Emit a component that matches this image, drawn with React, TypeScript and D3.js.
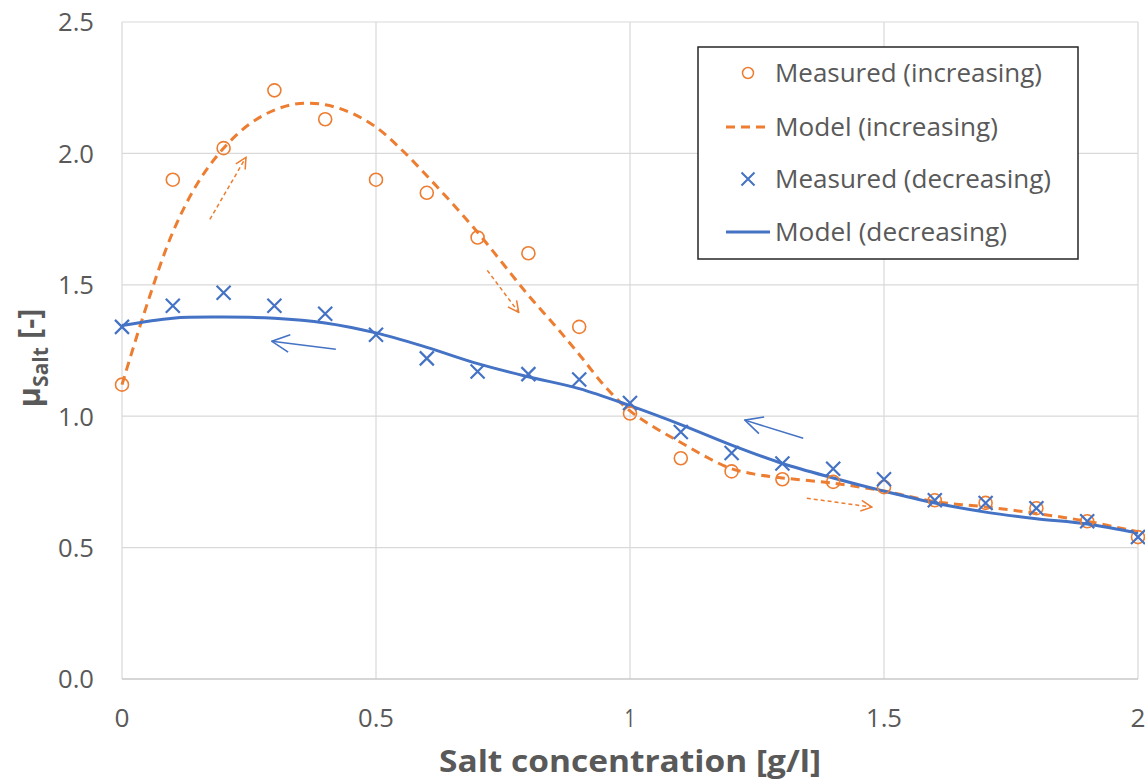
import React from "react";
import * as d3 from "d3";

// measured points (x = salt concentration g/l)
const xMeasured = [0, 0.1, 0.2, 0.3, 0.4, 0.5, 0.6, 0.7, 0.8, 0.9, 1.0, 1.1, 1.2, 1.3, 1.4, 1.5, 1.6, 1.7, 1.8, 1.9, 2.0];
const measuredIncreasing = [1.12, 1.9, 2.02, 2.24, 2.13, 1.9, 1.85, 1.68, 1.62, 1.34, 1.01, 0.84, 0.79, 0.76, 0.75, 0.73, 0.68, 0.67, 0.65, 0.6, 0.54];
const measuredDecreasing = [1.34, 1.42, 1.47, 1.42, 1.39, 1.31, 1.22, 1.17, 1.16, 1.14, 1.05, 0.94, 0.86, 0.82, 0.8, 0.76, 0.68, 0.67, 0.65, 0.6, 0.54];

// model curves
const modelIncreasing: [number, number][] = [
  [0, 1.12], [0.05, 1.43], [0.1, 1.7], [0.15, 1.89], [0.2, 2.02], [0.25, 2.11], [0.3, 2.165],
  [0.35, 2.19], [0.4, 2.185], [0.45, 2.155], [0.5, 2.1], [0.55, 2.015], [0.6, 1.915], [0.65, 1.81],
  [0.7, 1.7], [0.75, 1.58], [0.8, 1.46], [0.85, 1.35], [0.9, 1.235], [0.95, 1.115], [1.0, 1.02],
  [1.05, 0.955], [1.1, 0.9], [1.15, 0.845], [1.2, 0.8], [1.25, 0.778], [1.3, 0.765], [1.4, 0.745],
  [1.5, 0.715], [1.6, 0.675], [1.7, 0.655], [1.8, 0.63], [1.9, 0.6], [2.0, 0.56],
];
const modelDecreasing: [number, number][] = [
  [0, 1.345], [0.1, 1.373], [0.2, 1.377], [0.3, 1.373], [0.4, 1.355], [0.5, 1.317], [0.6, 1.262],
  [0.7, 1.2], [0.8, 1.15], [0.9, 1.105], [1.0, 1.04], [1.1, 0.968], [1.2, 0.89], [1.3, 0.82],
  [1.4, 0.765], [1.5, 0.715], [1.6, 0.67], [1.7, 0.635], [1.8, 0.61], [1.9, 0.59], [2.0, 0.555],
];

// direction arrows, in data units: [x1, y1, x2, y2]
const arrowsIncreasing = [
  [0.173, 1.749, 0.244, 1.985],
  [0.719, 1.555, 0.781, 1.395],
  [1.348, 0.688, 1.476, 0.654],
];
const arrowsDecreasing = [
  [0.421, 1.255, 0.295, 1.285],
  [1.341, 0.916, 1.226, 0.985],
];

const xTicks = [0, 0.5, 1, 1.5, 2];
const xTickLabels = ["0", "0.5", "1", "1.5", "2"];
const yTicks = [0, 0.5, 1, 1.5, 2, 2.5];

const legendItems = ["Measured (increasing)", "Model (increasing)", "Measured (decreasing)", "Model (decreasing)"];
const legendWidths = [267, 223, 276, 232];

const ORANGE = "#ED7D31";
const BLUE = "#4472C4";
const GRID = "#d9d9d9";
const TEXT = "#595959";
const FONT = "'Open Sans', sans-serif";

// rough label widths for the condensed look of the original font
const labelWidth = (s: string) => (s.length === 1 ? (s === "1" ? 11 : 15) : 36);

export default function App() {
  const width = 1145;
  const height = 780;
  const x = d3.scaleLinear().domain([0, 2]).range([122, 1138]);
  const y = d3.scaleLinear().domain([0, 2.5]).range([679, 22]);

  const line = d3
    .line<[number, number]>()
    .x((d) => x(d[0]))
    .y((d) => y(d[1]))
    .curve(d3.curveCatmullRom.alpha(0.5));

  const cross = (cx: number, cy: number, s: number) =>
    `M${cx - s},${cy - s}L${cx + s},${cy + s}M${cx - s},${cy + s}L${cx + s},${cy - s}`;

  const legendX = 698;
  const legendY = 47;
  const rowY = [73, 127, 179, 232];

  return (
    <svg
      width={width}
      height={height}
      style={{ position: "absolute", left: 0, top: 0, background: "#fff" }}
      fontFamily={FONT}
    >
      <defs>
        <marker id="headO" viewBox="0 0 12 12" refX="11" refY="6" markerWidth="13" markerHeight="13"
          markerUnits="userSpaceOnUse" orient="auto">
          <path d="M1,1 L11,6 L1,11" fill="none" stroke={ORANGE} strokeWidth="1.4" />
        </marker>
        <marker id="headB" viewBox="0 0 16 16" refX="15" refY="8" markerWidth="20" markerHeight="20"
          markerUnits="userSpaceOnUse" orient="auto">
          <path d="M1,1 L15,8 L1,15" fill="none" stroke={BLUE} strokeWidth="1.3" />
        </marker>
      </defs>

      {/* grid */}
      {yTicks.map((t) => (
        <line key={"gy" + t} x1={x(0)} x2={x(2)} y1={y(t)} y2={y(t)} stroke={GRID} strokeWidth={1.2} />
      ))}
      {xTicks.map((t) => (
        <line key={"gx" + t} x1={x(t)} x2={x(t)} y1={y(0)} y2={y(2.5)} stroke={GRID} strokeWidth={1.2} />
      ))}
      <line x1={x(0)} x2={x(2)} y1={y(0)} y2={y(0)} stroke="#bfbfbf" strokeWidth={1.2} />

      {/* tick labels */}
      {yTicks.map((t) => {
        const s = d3.format(".1f")(t);
        return (
          <text key={"ty" + t} x={94} y={y(t)} dy="0.36em" textAnchor="end" fontSize={26} fill={TEXT}
            textLength={labelWidth(s)} lengthAdjust="spacingAndGlyphs">
            {s}
          </text>
        );
      })}
      {xTickLabels.map((s, i) => (
        <text key={"tx" + s} x={xTicks[i]} y={718} dy="0.36em" textAnchor="middle" fontSize={26} fill={TEXT}
          transform={`translate(${x(xTicks[i]) - xTicks[i]},0)`}
          textLength={labelWidth(s)} lengthAdjust="spacingAndGlyphs">
          {s}
        </text>
      ))}

      {/* axis titles */}
      <text x={630} y={772} textAnchor="middle" fontSize={31} fontWeight="bold" fill={TEXT}
        textLength={382} lengthAdjust="spacingAndGlyphs">
        Salt concentration [g/l]
      </text>
      <text transform="translate(40,358) rotate(-90)" textAnchor="middle" fontSize={31} fontWeight="bold" fill={TEXT}>
        μ<tspan fontSize={21} dy="8">Salt</tspan>
        <tspan dy="-8"> [-]</tspan>
      </text>

      {/* model lines */}
      <path d={line(modelIncreasing) || ""} fill="none" stroke={ORANGE} strokeWidth={3} strokeDasharray="9 6" />
      <path d={line(modelDecreasing) || ""} fill="none" stroke={BLUE} strokeWidth={3} />

      {/* measured points */}
      {xMeasured.map((xv, i) => (
        <circle key={"mi" + i} cx={x(xv)} cy={y(measuredIncreasing[i])} r={6.5} fill="none" stroke={ORANGE} strokeWidth={1.6} />
      ))}
      {xMeasured.map((xv, i) => (
        <path key={"md" + i} d={cross(x(xv), y(measuredDecreasing[i]), 7)} stroke={BLUE} strokeWidth={2.2} fill="none" />
      ))}

      {/* arrows */}
      {arrowsIncreasing.map((a, i) => (
        <line key={"ai" + i} x1={x(a[0])} y1={y(a[1])} x2={x(a[2])} y2={y(a[3])} stroke={ORANGE}
          strokeWidth={1.5} strokeDasharray="4 3" markerEnd="url(#headO)" />
      ))}
      {arrowsDecreasing.map((a, i) => (
        <line key={"ad" + i} x1={x(a[0])} y1={y(a[1])} x2={x(a[2])} y2={y(a[3])} stroke={BLUE}
          strokeWidth={1.5} markerEnd="url(#headB)" />
      ))}

      {/* legend */}
      <rect x={legendX} y={legendY} width={380} height={212} fill="#fff" stroke="#262626" strokeWidth={1.5} />
      <circle cx={748} cy={rowY[0]} r={5.5} fill="none" stroke={ORANGE} strokeWidth={1.5} />
      <line x1={726} x2={770} y1={rowY[1]} y2={rowY[1]} stroke={ORANGE} strokeWidth={3} strokeDasharray="9 6" />
      <path d={cross(748, rowY[2], 6.5)} stroke={BLUE} strokeWidth={2} fill="none" />
      <line x1={726} x2={770} y1={rowY[3]} y2={rowY[3]} stroke={BLUE} strokeWidth={3} />
      {legendItems.map((t, i) => (
        <text key={"lg" + i} x={775} y={rowY[i]} dy="0.36em" fontSize={25} fill={TEXT}
          textLength={legendWidths[i]} lengthAdjust="spacingAndGlyphs">
          {t}
        </text>
      ))}
    </svg>
  );
}
